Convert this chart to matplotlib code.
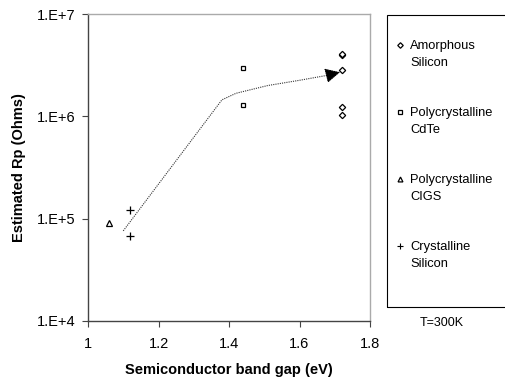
import matplotlib.pyplot as plt
from matplotlib.lines import Line2D
from matplotlib.patches import Rectangle

plt.rcParams['font.family'] = ['Liberation Sans', 'DejaVu Sans']

# data
amorphous_x = [1.72, 1.72, 1.72, 1.72, 1.72]
amorphous_y = [4.0e6, 4.1e6, 2.85e6, 1.22e6, 1.03e6]
cdte_x = [1.44, 1.44]
cdte_y = [3.0e6, 1.3e6]
cigs_x = [1.06]
cigs_y = [9.1e4]
csi_x = [1.12, 1.12]
csi_y = [1.22e5, 6.8e4]

trend_x = [1.10, 1.38, 1.42, 1.51, 1.60, 1.68]
trend_y = [7.6e4, 1.45e6, 1.68e6, 2.0e6, 2.25e6, 2.52e6]
arrow_tip = (1.715, 2.7e6)

labels = ['Amorphous\nSilicon', 'Polycrystalline\nCdTe', 'Polycrystalline\nCIGS', 'Crystalline\nSilicon']

fig = plt.figure(figsize=(5.05, 3.80), dpi=100)
ax = fig.add_axes([88 / 505, 1 - 321 / 380, 282 / 505, 307 / 380])

mk = dict(linestyle='none', markerfacecolor='white', markeredgecolor='black', markeredgewidth=0.9)
ax.plot(amorphous_x, amorphous_y, marker='D', markersize=3.2, **mk)
ax.plot(cdte_x, cdte_y, marker='s', markersize=3.4, **mk)
ax.plot(cigs_x, cigs_y, marker='^', markersize=4, **mk)
ax.plot(csi_x, csi_y, marker='+', linestyle='none', color='black',
        markersize=6, markeredgewidth=0.9)

ax.plot(trend_x, trend_y, linestyle=(0, (1, 1)), color='#333333', linewidth=0.8)
ax.annotate('', xy=arrow_tip, xytext=(trend_x[-1], trend_y[-1]),
            arrowprops=dict(arrowstyle='-|>,head_length=0.9,head_width=0.45',
                            color='black', linewidth=0.8, linestyle=(0, (1, 1)),
                            shrinkA=0, shrinkB=0))

ax.set_yscale('log')
ax.set_xlim(1.0, 1.8)
ax.set_ylim(1e4, 1e7)
ax.set_xticks([1.0, 1.2, 1.4, 1.6, 1.8])
ax.set_xticklabels(['1', '1.2', '1.4', '1.6', '1.8'])
ax.set_yticks([1e4, 1e5, 1e6, 1e7])
ax.set_yticklabels(['1.E+4', '1.E+5', '1.E+6', '1.E+7'])
ax.minorticks_off()
ax.tick_params(labelsize=10.5, length=4, width=0.8, color='#444444')
ax.tick_params(axis='x', pad=7.5)
ax.tick_params(axis='y', pad=5)

for s in ['left', 'bottom']:
    ax.spines[s].set_color('#444444')
    ax.spines[s].set_linewidth(1)
for s in ['top', 'right']:
    ax.spines[s].set_color('#aaaaaa')
    ax.spines[s].set_linewidth(1)

ax.set_xlabel('Semiconductor band gap (eV)', fontsize=10.5, fontweight='bold')
ax.set_ylabel('Estimated Rp (Ohms)', fontsize=10.5, fontweight='bold')
ax.xaxis.set_label_coords(0.5, -(363 - 321) / 307)
ax.yaxis.set_label_coords((26 - 88) / 282, 0.5)

# legend box runs off the right edge
fig.patches.append(Rectangle((387 / 505, 1 - 307 / 380), 0.3, 292 / 380,
                             transform=fig.transFigure, facecolor='none',
                             edgecolor='black', linewidth=0.8))

handles = [
    Line2D([], [], marker='D', markersize=2.8, **mk),
    Line2D([], [], marker='s', markersize=3, **mk),
    Line2D([], [], marker='^', markersize=3.5, **mk),
    Line2D([], [], marker='+', linestyle='none', color='black', markersize=5, markeredgewidth=0.8),
]
leg = fig.legend(handles, labels, loc='center left', bbox_to_anchor=(396 / 505, 1 - 155 / 380),
                 fontsize=9.3, frameon=False, labelspacing=2.9, handleheight=1.1,
                 handlelength=0.6, handletextpad=0.5, borderpad=0, borderaxespad=0)
for t in leg.get_texts():
    t.set_linespacing(1.6)
# put each marker level with the first line of its label
for col in leg._legend_handle_box.get_children():
    for row in col.get_children():
        row.align = 'top'

fig.text(420 / 505, 1 - 323 / 380, 'T=300K', fontsize=9, va='center')

fig.savefig('out.png', dpi=100)
